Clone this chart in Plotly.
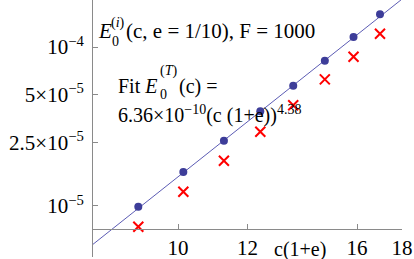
import math
import plotly.graph_objects as go

# ---- data ----
x_c1e = [9.01, 10.14, 11.28, 12.41, 13.53, 14.70, 15.85, 16.99]
e0_i = [9.90e-6, 1.637e-5, 2.575e-5, 3.94e-5, 5.71e-5, 8.20e-5, 1.156e-4, 1.606e-4]
e0_t = [7.41e-6, 1.230e-5, 1.927e-5, 2.934e-5, 4.30e-5, 6.26e-5, 8.69e-5, 1.212e-4]
fit_a = 6.36e-10
fit_b = 4.38
fit_x = [8.0, 18.6]
fit_y = [fit_a * v ** fit_b for v in fit_x]

x_tickvals = [10, 12, 16, 18]
x_ticktext = ["10", "12", "16", "18"]
y_tickvals = [1e-4, 5e-5, 2.5e-5, 1e-5]
y_ticktext = ["10<sup>\u22124</sup>", "5\u00d710<sup>\u22125</sup>",
              "2.5\u00d710<sup>\u22125</sup>", "10<sup>\u22125</sup>"]

W, H = 414, 259
ML, MR, MT, MB = 93, 12, 0, 2
PW, PH = W - ML - MR, H - MT - MB
FONT = "Liberation Serif"
AX = "#8a8a8a"


def px(xp):
    return (xp - ML) / PW


def py(yp):
    return (H - MB - yp) / PH


fig = go.Figure()
fig.add_trace(go.Scatter(x=fit_x, y=fit_y, mode="lines",
                         line=dict(color="#5c5cb4", width=1), hoverinfo="skip"))
fig.add_trace(go.Scatter(x=x_c1e, y=e0_t, mode="markers",
                         marker=dict(symbol="x-thin", size=10,
                                     line=dict(color="#ff0000", width=2))))
fig.add_trace(go.Scatter(x=x_c1e, y=e0_i, mode="markers",
                         marker=dict(symbol="circle", size=8, color="#3d3d99")))

ann = []


def add(text, xp, yp, size=20):
    ann.append(dict(text=text, x=px(xp), y=py(yp), xref="paper", yref="paper",
                    xanchor="left", yanchor="middle", showarrow=False,
                    font=dict(family=FONT, size=size, color="black")))


# line 1
add("<i>E</i>", 96, 31, 21)
add("0", 110, 41, 14)
add("(<i>i</i>)", 109, 23, 14)
add("(c, e = 1/10), F = 1000", 124, 31, 21)
# line 2
add("Fit <i>E</i>", 116, 86)
add("0", 158, 94, 14)
add("(<i>T</i>)", 158, 71, 14)
add("(c) =", 177, 86)
# line 3
add("6.36\u00d710<sup>\u221210</sup>(c (1+e))<sup>4.38</sup>", 116, 114)
# axis label
ann.append(dict(text="c(1+e)", x=px(300), y=py(249), xref="paper", yref="paper",
                xanchor="center", yanchor="middle", showarrow=False,
                font=dict(family=FONT, size=20, color="black")))

fig.update_layout(
    width=W, height=H,
    margin=dict(l=ML, r=MR, t=MT, b=MB, autoexpand=False),
    paper_bgcolor="white", plot_bgcolor="white",
    showlegend=False,
    font=dict(family=FONT),
    annotations=ann,
    xaxis=dict(type="log", range=[math.log10(8.0), math.log10(18.0)],
               anchor="free", position=(H - MB - 229) / PH, automargin=False,
               tickvals=x_tickvals, ticktext=x_ticktext,
               ticks="inside", ticklen=5, tickcolor=AX, tickwidth=1,
               showline=True, linecolor=AX, linewidth=1,
               showgrid=False, zeroline=False, ticklabelstandoff=0,
               tickfont=dict(family=FONT, size=21, color="black")),
    yaxis=dict(type="log", range=[-5.321, -3.704], automargin=False,
               tickvals=y_tickvals, ticktext=y_ticktext,
               ticks="inside", ticklen=5, tickcolor=AX, tickwidth=1,
               showline=True, linecolor=AX, linewidth=1,
               showgrid=False, zeroline=False, ticklabelstandoff=4,
               tickfont=dict(family=FONT, size=21, color="black")),
)

fig.write_html("out.html", config={"displayModeBar": False},
               post_script="document.body.style.margin='0';document.body.style.padding='0';")
